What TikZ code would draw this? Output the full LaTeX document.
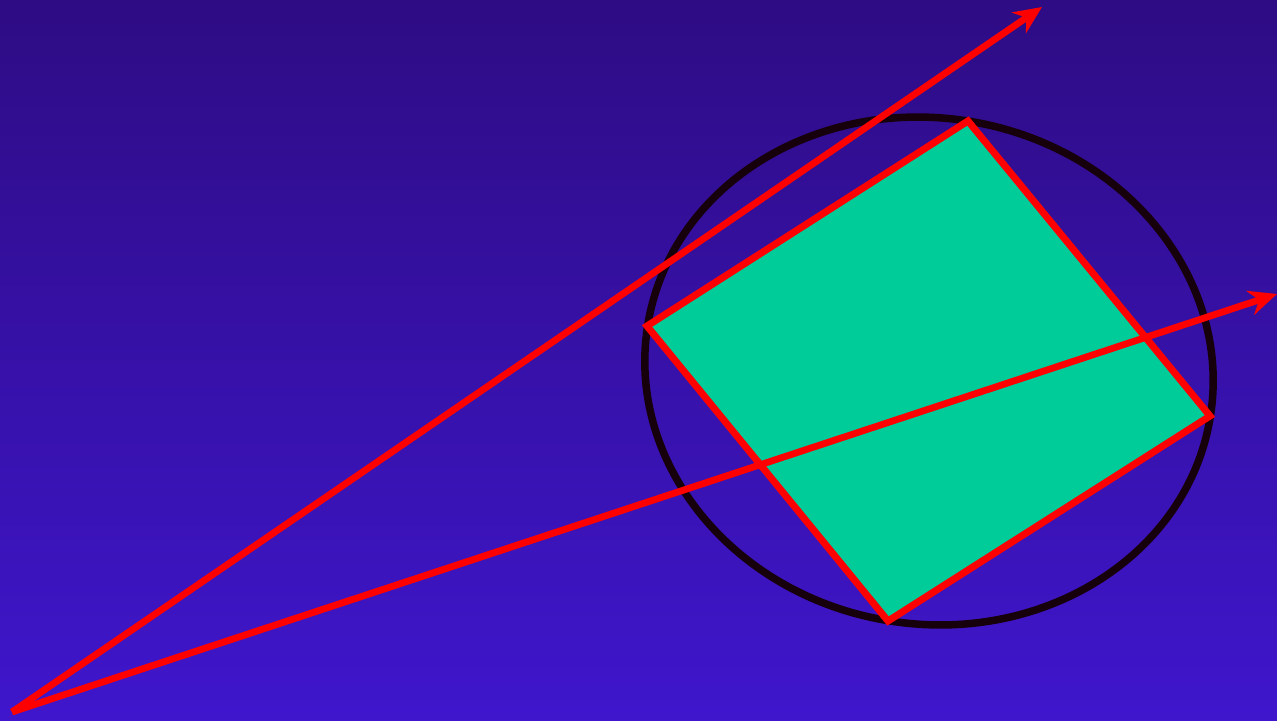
\documentclass[tikz,border=0pt]{standalone}
\usepackage{xcolor}
\usepackage{tikz}
\usetikzlibrary{arrows.meta}

\definecolor{bgtop}{RGB}{46,12,132}
\definecolor{bgbottom}{RGB}{63,22,204}
\definecolor{quadfill}{RGB}{0,204,153}
\definecolor{rimdark}{RGB}{22,0,12}

\begin{document}
\begin{tikzpicture}[x=0.1mm, y=0.1mm,
    ray/.style={red, line width=0.68mm, -{Stealth[length=2.8mm, width=2.5mm]}},
    edge/.style={red, line width=0.7mm, line join=miter}]
    \useasboundingbox (0,0) rectangle (1277,720);
    \shade[top color=bgtop, bottom color=bgbottom] (0,0) rectangle (1277,720);
    \draw[rimdark, line width=0.75mm] (929,349) ellipse [x radius=28.5mm, y radius=25.3mm, rotate=-9.5];
    % quadrilateral
    \coordinate (qt) at (968,599);
    \coordinate (qr) at (1210,304);
    \coordinate (qb) at (888,99);
    \coordinate (ql) at (647,394);
    \fill[quadfill] (qt) -- (qr) -- (qb) -- (ql) -- cycle;
    \draw[edge] (qt) -- (qr) -- (qb) -- (ql) -- cycle;
    % rays from the apex
    \coordinate (apex) at (12,8);
    \coordinate (tipa) at (1042,713);
    \coordinate (tipb) at (1277,426);
    \draw[ray] (apex) -- (tipa);
    \draw[ray] (apex) -- (tipb);
  \end{tikzpicture}
\end{document}
